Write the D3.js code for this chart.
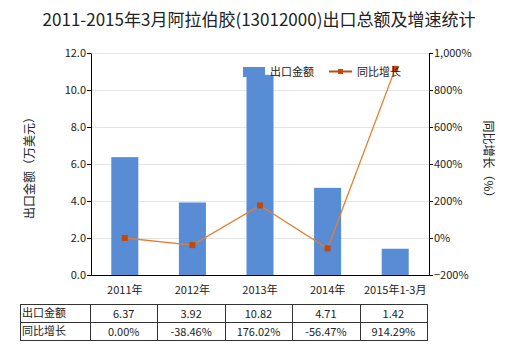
<!DOCTYPE html>
<html>
<head>
<meta charset="utf-8">
<script src="https://cdn.jsdelivr.net/npm/d3@7"></script>
<style>
  body { margin: 0; background: #fff; }
  svg { display: block; font-family: "Microsoft YaHei", "Noto Sans CJK SC", sans-serif; }
</style>
</head>
<body>
<svg id="chart" width="520" height="350"></svg>
<script>
// Export value (10k USD) and year-on-year growth (%) per period
const categories = ["2011年", "2012年", "2013年", "2014年", "2015年1-3月"];
const exportValues = [6.37, 3.92, 10.82, 4.71, 1.42];
const growthRates = [0.00, -38.46, 176.02, -56.47, 914.29];
const leftTicks = [0, 2, 4, 6, 8, 10, 12];
const rightTicks = [-200, 0, 200, 400, 600, 800, 1000];
const rowNames = ["出口金额", "同比增长"];

const svg = d3.select("#chart");
const pLeft = 91, pRight = 429, pTop = 53, pBottom = 275;

const x = d3.scaleBand().domain(categories).range([pLeft, pRight]).paddingInner(0.6).paddingOuter(0.3);
const yL = d3.scaleLinear().domain([0, 12]).range([pBottom, pTop]);
const yR = d3.scaleLinear().domain([-200, 1000]).range([pBottom, pTop]);

// title
svg.append("text").attr("x", 259).attr("y", 26).attr("text-anchor", "middle")
  .attr("font-size", 17).attr("fill", "#222")
  .text("2011-2015年3月阿拉伯胶(13012000)出口总额及增速统计");

// gridlines
svg.append("g").selectAll("line").data(leftTicks.slice(1)).join("line")
  .attr("x1", pLeft).attr("x2", pRight)
  .attr("y1", d => yL(d) + 0.5).attr("y2", d => yL(d) + 0.5)
  .attr("stroke", "#e4e4e4").attr("stroke-width", 1);

// bars
svg.append("g").selectAll("rect").data(exportValues).join("rect")
  .attr("x", (d, i) => x(categories[i]))
  .attr("width", x.bandwidth())
  .attr("y", d => yL(d))
  .attr("height", d => pBottom - yL(d))
  .attr("fill", "#588cd5");

// growth line
const cx = (d, i) => x(categories[i]) + x.bandwidth() / 2;
svg.append("path").datum(growthRates)
  .attr("fill", "none").attr("stroke", "#e87c2e").attr("stroke-width", 1.3)
  .attr("d", d3.line().x(cx).y(d => yR(d)));
svg.append("g").selectAll("rect").data(growthRates).join("rect")
  .attr("x", (d, i) => cx(d, i) - 3).attr("y", d => yR(d) - 3)
  .attr("width", 6).attr("height", 6).attr("fill", "#c2490a");

// axes
const fmtL = d3.format(".1f");
const axL = svg.append("g").attr("transform", `translate(${pLeft},0)`)
  .call(d3.axisLeft(yL).tickValues(leftTicks).tickFormat(fmtL).tickSize(4).tickSizeOuter(0));
const axR = svg.append("g").attr("transform", `translate(${pRight},0)`)
  .call(d3.axisRight(yR).tickValues(rightTicks).tickFormat(d => d3.format(",")(d) + "%").tickSize(4).tickSizeOuter(0));
svg.append("line").attr("x1", pLeft).attr("x2", pRight).attr("y1", pBottom + 0.5).attr("y2", pBottom + 0.5)
  .attr("stroke", "#000");
[axL, axR].forEach(a => {
  a.selectAll("text").attr("font-size", 11).attr("fill", "#222")
    .attr("font-family", "'Microsoft YaHei','Noto Sans CJK SC',sans-serif");
  a.selectAll("path,line").attr("stroke", "#000");
});
axL.selectAll("text").attr("x", -5);
axR.selectAll("text").attr("x", 5);

// category labels
svg.append("g").selectAll("text").data(categories).join("text")
  .attr("x", d => x(d) + x.bandwidth() / 2).attr("y", 294)
  .attr("text-anchor", "middle").attr("font-size", 11).attr("fill", "#222")
  .text(d => d);

// axis titles
svg.append("text").attr("transform", "translate(34,165) rotate(-90)")
  .attr("text-anchor", "middle").attr("font-size", 12).attr("fill", "#222")
  .text("出口金额（万美元）");
svg.append("text").attr("transform", "translate(484,162) rotate(90)")
  .attr("text-anchor", "middle").attr("font-size", 12).attr("fill", "#222")
  .text("同比增长（%）");

// legend
svg.append("rect").attr("x", 243).attr("y", 67).attr("width", 22).attr("height", 10).attr("fill", "#588cd5");
svg.append("text").attr("x", 270).attr("y", 76).attr("font-size", 11).attr("fill", "#222").text("出口金额");
svg.append("line").attr("x1", 329).attr("x2", 352).attr("y1", 71.5).attr("y2", 71.5)
  .attr("stroke", "#c2490a").attr("stroke-width", 2);
svg.append("rect").attr("x", 338).attr("y", 69).attr("width", 5).attr("height", 5).attr("fill", "#c2490a");
svg.append("text").attr("x", 357).attr("y", 76).attr("font-size", 11).attr("fill", "#222").text("同比增长");

// data table
const tTop = 304, rowH = 18, tLeft = 20, firstCol = 90;
const tbl = svg.append("g");
const colEdges = [tLeft, firstCol].concat(categories.map((c, i) => firstCol + (i + 1) * (pRight - 2 - firstCol) / categories.length));
const tRight = colEdges[colEdges.length - 1];
[0, 1, 2].forEach(r => tbl.append("line")
  .attr("x1", tLeft).attr("x2", tRight)
  .attr("y1", tTop + r * rowH + 0.5).attr("y2", tTop + r * rowH + 0.5).attr("stroke", "#333"));
colEdges.forEach(cx0 => tbl.append("line")
  .attr("x1", Math.round(cx0) + 0.5).attr("x2", Math.round(cx0) + 0.5)
  .attr("y1", tTop).attr("y2", tTop + 2 * rowH + 1).attr("stroke", "#333"));
const rows = [exportValues.map(d => d.toFixed(2)), growthRates.map(d => d.toFixed(2) + "%")];
rows.forEach((vals, r) => {
  const yText = tTop + r * rowH + 14;
  tbl.append("text").attr("x", tLeft + 2).attr("y", yText - 1).attr("font-size", 11).attr("fill", "#222").text(rowNames[r]);
  vals.forEach((v, i) => tbl.append("text")
    .attr("x", (colEdges[i + 1] + colEdges[i + 2]) / 2).attr("y", yText)
    .attr("text-anchor", "middle").attr("font-size", 11).attr("fill", "#222").text(v));
});
</script>
</body>
</html>
